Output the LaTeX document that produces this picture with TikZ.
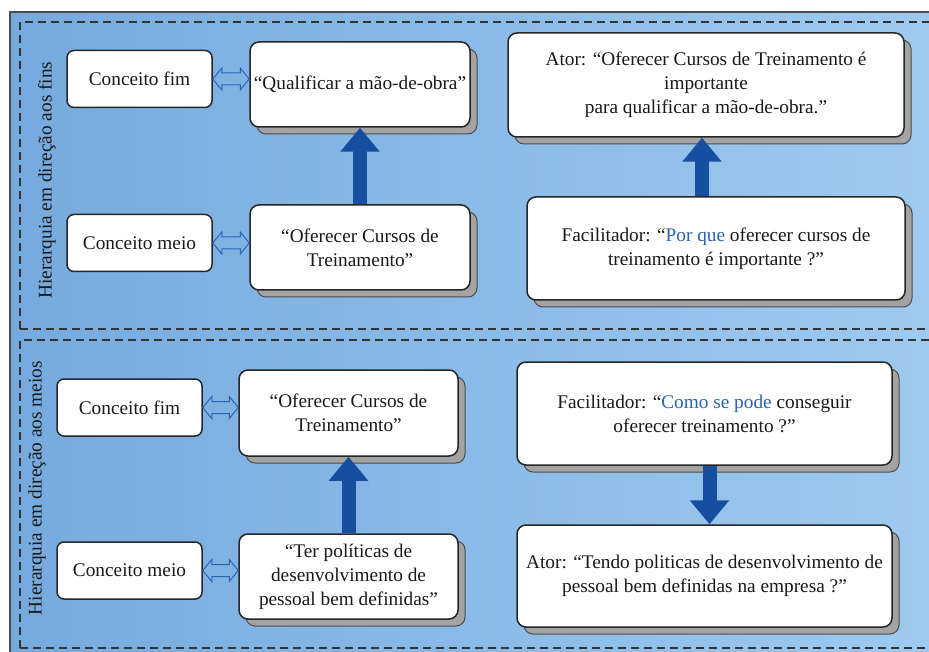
\documentclass[tikz,border=0pt]{standalone}
\usepackage{fontspec}
\setmainfont{Liberation Serif}
\usetikzlibrary{arrows.meta,shadows,calc}
\definecolor{bgL}{RGB}{118,170,222}
\definecolor{bgR}{RGB}{158,202,240}
\definecolor{dblue}{RGB}{22,78,160}
\definecolor{lblue}{RGB}{40,100,185}
\definecolor{tblue}{RGB}{40,100,175}
\begin{document}
\begin{tikzpicture}[x=1pt,y=-1pt,
  every node/.style={font=\fontsize{19.3}{24}\selectfont, text=black!90},
  small/.style={draw=black!85, line width=1.5pt, fill=white, rounded corners=7pt,
     minimum width=145pt, minimum height=57pt, inner sep=0pt},
  big/.style={draw=black!85, line width=1.5pt, fill=white, rounded corners=9pt,
     inner sep=0pt, align=center,
     drop shadow={shadow xshift=7pt, shadow yshift=-7pt, opacity=1, fill=black!36, draw=black!70, line width=1pt}},
  dbl/.style={draw=lblue, line width=1pt, line join=miter},
  fat/.style={draw=dblue, line width=14pt, -{Triangle[width=38pt,length=24pt]}},
  dsh/.style={draw=black!80, line width=1.3pt, dash pattern=on 8pt off 5pt},
  vlab/.style={rotate=90, font=\fontsize{19.3}{24}\selectfont}
]
\useasboundingbox (0,0) rectangle (929,652);
\fill[white] (0,0) rectangle (929,652);
\shade[left color=bgL, right color=bgR] (10,12) rectangle (929,652);
\draw[black!70, line width=1.3pt] (10,652) -- (10,12) -- (929,12);
% dashed frames
\draw[dsh] (20,329) -- (20,22) -- (935,22);
\draw[dsh] (20,329) -- (935,329);
\draw[dsh] (20,648) -- (20,340) -- (935,340);
\draw[dsh] (20,648) -- (935,648);

% vertical labels
\node[vlab] (h1) at (47,180) {Hierarquia em direção aos fins};
\node[vlab] (h2) at (37,488) {Hierarquia em direção aos meios};

% top section
\node[small] (cf1) at (139.5,79) {Conceito fim};
\node[small] (cm1) at (139.5,243) {Conceito meio};
\node[big, minimum width=220pt, minimum height=85pt] (q1) at (360,84.5) {“Qualificar a mão-de-obra”};
\node[big, minimum width=220pt, minimum height=85pt] (o1) at (360,247.5) {“Oferecer Cursos de\\Treinamento”};
\node[big, minimum width=396pt, minimum height=104pt] (a1) at (706,85) {Ator: “Oferecer Cursos de Treinamento é\\importante\\para qualificar a mão-de-obra.”};
\node[big, minimum width=378pt, minimum height=103pt] (f1) at (716,248.5) {Facilitador: “\textcolor{tblue}{Por que} oferecer cursos de\\treinamento é importante ?”};

% bottom section
\node[small] (cf2) at (129.5,407.5) {Conceito fim};
\node[small] (cm2) at (129.5,570.5) {Conceito meio};
\node[big, minimum width=219pt, minimum height=86pt] (o2) at (348.5,413) {“Oferecer Cursos de\\Treinamento”};
\node[big, minimum width=219pt, minimum height=85pt] (t2) at (348.5,576.5) {“Ter políticas de\\desenvolvimento de\\pessoal bem definidas”};
\node[big, minimum width=375pt, minimum height=103pt] (f2) at (704.5,413.5) {Facilitador: “\textcolor{tblue}{Como se pode} conseguir\\oferecer treinamento ?”};
\node[big, minimum width=375pt, minimum height=102pt] (a2) at (704.5,576) {Ator: “Tendo politicas de desenvolvimento de\\pessoal bem definidas na empresa ?”};

% hollow double-headed connectors
\foreach \s/\t in {cf1/q1, cm1/o1, cf2/o2, cm2/t2}{
  \draw[dbl] (\s.east) -- ++(9,-11) -- ++(0,5) -- ($(\s.east -| \t.west)+(-9,-6)$)
     -- ++(0,-5) -- (\s.east -| \t.west) -- ++(-9,11) -- ++(0,-5)
     -- ($(\s.east)+(9,6)$) -- ++(0,5) -- cycle;
}
% block arrows
\draw[fat] (o1.north) -- (q1.south);
\draw[fat] ([xshift=-4pt]a1.south |- f1.north) -- ([xshift=-4pt]a1.south);
\draw[fat] (t2.north) -- (o2.south);
\draw[fat] ([xshift=5pt]f2.south) -- ([xshift=5pt]f2.south |- a2.north);
\end{tikzpicture}
\end{document}
